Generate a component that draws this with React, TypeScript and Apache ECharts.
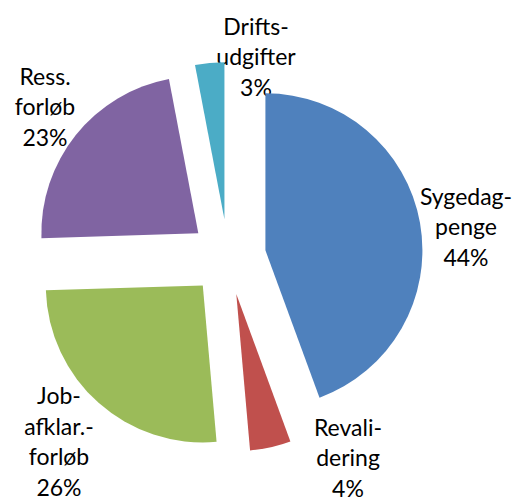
import React, { useEffect, useRef } from "react";
import * as echarts from "echarts";

// Data
const categories = ["Sygedag-\npenge", "Revali-\ndering", "Job-\nafklar.-\nforløb", "Ress.\nforløb", "Drifts-\nudgifter"];
const shares = [44.4, 4.2, 25.9, 22.5, 3.0];
const colors = ["#4F81BD", "#C0504D", "#9BBB59", "#8064A2", "#4BACC6"];

// Layout (pixels)
const CX = 228;
const CY = 257;
const RADIUS = 157;
const EXPLODE = 38;
// label block centres
const labelPos: [number, number][] = [
  [466, 226],
  [348, 457],
  [59, 441],
  [45, 106],
  [256, 56],
];

export default function App() {
  const ref = useRef<HTMLDivElement>(null);
  useEffect(() => {
    const chart = echarts.init(ref.current!, undefined, { renderer: "svg" });
    const total = shares.reduce((a, b) => a + b, 0);
    chart.setOption({
      animation: false,
      series: [
        {
          type: "pie",
          center: [CX, CY],
          radius: RADIUS,
          startAngle: 90,
          clockwise: true,
          selectedMode: "multiple",
          selectedOffset: EXPLODE,
          avoidLabelOverlap: false,
          emphasis: { disabled: true },
          itemStyle: { borderWidth: 0 },
          label: { show: false },
          labelLine: { show: false },
          data: shares.map((v, i) => ({
            value: v,
            name: categories[i],
            selected: true,
            itemStyle: { color: colors[i] },
          })),
        },
      ],
      graphic: categories.map((c, i) => ({
        type: "text",
        x: labelPos[i][0],
        y: labelPos[i][1],
        silent: true,
        style: {
          text: `${c}\n${Math.round((shares[i] / total) * 100)}%`,
          fill: "#000",
          font: "23px Lato, Carlito, Calibri, sans-serif",
          lineHeight: 30.5,
          align: "center",
          textAlign: "center",
          verticalAlign: "middle",
          textVerticalAlign: "middle",
        },
      })),
    });
    return () => chart.dispose();
  }, []);
  return (
    <div
      ref={ref}
      style={{ position: "absolute", left: 0, top: 0, width: 517, height: 501, background: "#fff" }}
    />
  );
}
